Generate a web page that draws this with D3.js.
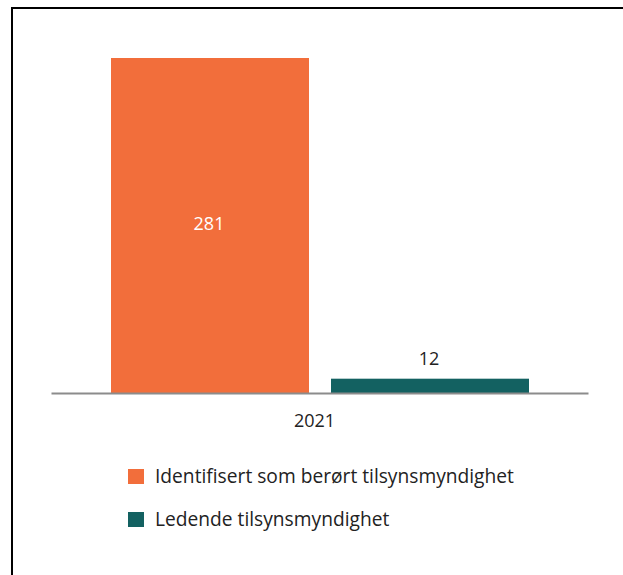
<!DOCTYPE html>
<html>
<head>
<meta charset='UTF-8' />
<style>
	body { margin: 0; background: #ffffff; }
	text { font-family: 'Open Sans', sans-serif; }
</style>
</head>
<body>
<script src='https://d3js.org/d3.v7.min.js'></script>
<script>
'use strict';
const categories = ['2021'];
const seriesNames = ['Identifisert som berørt tilsynsmyndighet', 'Ledende tilsynsmyndighet'];
const seriesValues = [[281], [12]];
const colors = ['#f26e3b', '#136161'];

const width = 623, height = 575;
const svg = d3.select('body').append('svg')
	.attr('width', width)
	.attr('height', height);

// frame (top and left edges only visible)
svg.append('path')
	.attr('d', 'M12,575V8H623')
	.attr('fill', 'none')
	.attr('stroke', '#000')
	.attr('stroke-width', 2);

const plot = {left: 51, right: 588, top: 58, bottom: 393};

const x0 = d3.scaleBand()
	.domain(categories)
	.range([plot.left, plot.right]);

const x1 = d3.scaleBand()
	.domain(seriesNames)
	.range([60, x0.bandwidth() - 59])
	.paddingInner(0.1);

const y = d3.scaleLinear()
	.domain([0, 281])
	.range([plot.bottom, plot.top]);

const rows = [];
categories.forEach(function(c, i) {
	seriesNames.forEach(function(s, j) {
		rows.push({cat: c, name: s, value: seriesValues[j][i], idx: j});
	});
});

const g = svg.append('g');
g.selectAll('rect')
	.data(rows)
	.enter().append('rect')
	.attr('x', function(d) { return x0(d.cat) + x1(d.name); })
	.attr('y', function(d) { return y(d.value); })
	.attr('width', x1.bandwidth())
	.attr('height', function(d) { return y(0) - y(d.value); })
	.attr('fill', function(d) { return colors[d.idx]; });

// value labels: inside the tall bar, above the short one
g.selectAll('text.val')
	.data(rows)
	.enter().append('text')
	.attr('class', 'val')
	.attr('x', function(d) { return x0(d.cat) + x1(d.name) + x1.bandwidth() / 2 - 1; })
	.attr('y', function(d) { return d.value > 100 ? (y(d.value) + y(0)) / 2 + 4 : y(d.value) - 14; })
	.attr('text-anchor', 'middle')
	.attr('font-size', 18)
	.attr('fill', function(d) { return d.value > 100 ? '#ffffff' : '#222222'; })
	.text(function(d) { return d.value; });

const xAxis = svg.append('g')
	.attr('transform', 'translate(0,' + plot.bottom + ')')
	.call(d3.axisBottom(x0).tickSize(0).tickPadding(21));
xAxis.select('.domain').attr('stroke', '#8c8c8c').attr('stroke-width', 2);
xAxis.selectAll('text').attr('font-size', 18).attr('fill', '#222222')
	.attr('dx', -5)
	.style('font-family', "'Open Sans', sans-serif");

const legend = svg.append('g')
	.selectAll('g')
	.data(seriesNames)
	.enter().append('g')
	.attr('transform', function(d, i) { return 'translate(128,' + (469 + i * 43) + ')'; });
legend.append('rect')
	.attr('width', 16)
	.attr('height', 15)
	.attr('fill', function(d, i) { return colors[i]; });
legend.append('text')
	.attr('x', 27)
	.attr('y', 14)
	.attr('font-size', 19.2)
	.attr('fill', '#222222')
	.text(function(d) { return d; });
</script>
</body>
</html>
